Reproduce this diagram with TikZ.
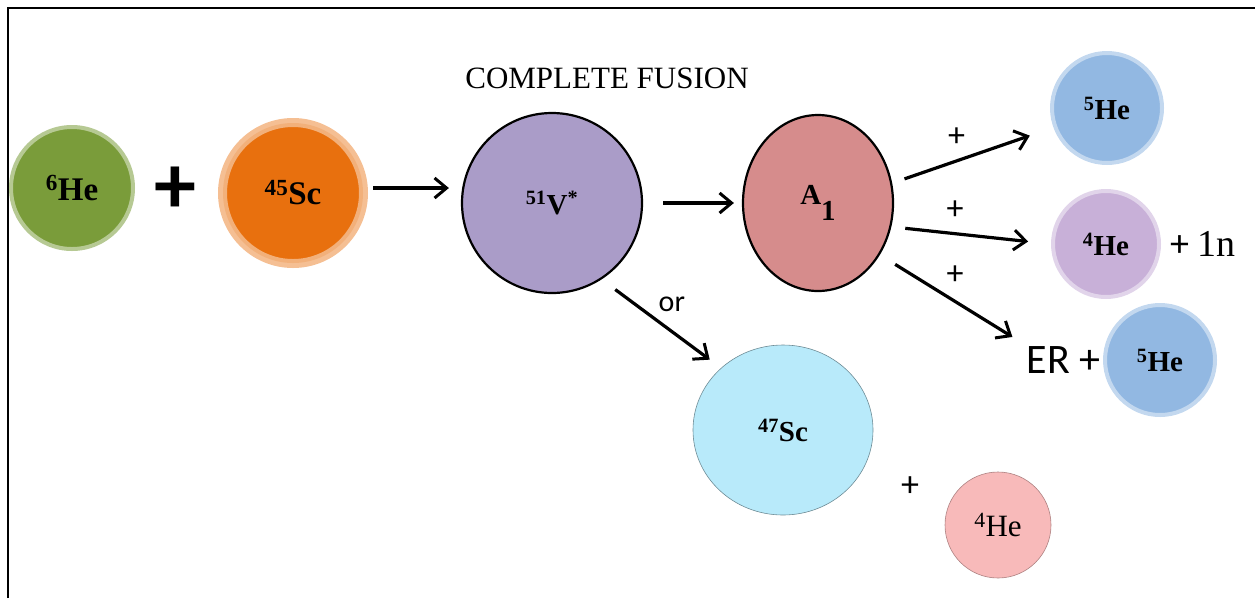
\documentclass[tikz,border=0pt]{standalone}
\usepackage{fontspec}
\setmainfont{Liberation Serif}
\newfontfamily\calfont{Carlito}
\usetikzlibrary{shapes.geometric,positioning,arrows.meta}
\definecolor{hegreen}{RGB}{122,156,58}
\definecolor{scorange}{RGB}{232,112,14}
\definecolor{vpurple}{RGB}{170,156,200}
\definecolor{apink}{RGB}{214,140,140}
\definecolor{heblue}{RGB}{146,184,226}
\definecolor{hepurple}{RGB}{200,176,216}
\definecolor{sccyan}{RGB}{184,234,250}
\definecolor{hepink}{RGB}{248,186,186}
\begin{document}
\begin{tikzpicture}[x=1pt,y=-1pt,
    nucleus/.style={circle, inner sep=0pt, minimum size=#1},
    bevel/.style={fill=#1, draw=#1!55!white, line width=4pt},
    arr/.style={-{Straight Barb[length=12pt,width=20pt,line width=3pt]}, line width=3.2pt},
    big/.style={font=\bfseries\fontsize{#1}{#1}\selectfont},
    sans/.style={font=\calfont\fontsize{#1}{#1}\selectfont}]
    \useasboundingbox (0,0) rectangle (1255,598);
    % Frame
    \draw[line width=1.2pt] (8,598) -- (8,8) -- (1255,8);

    % Reactants
    \node[nucleus=122, bevel=hegreen, big=33] (he6) at (72,188) {\textsuperscript{6}He};
    \node[sans=84] (plus) at (175,190) {\textbf{+}};
    \node[nucleus=150, fill=scorange!45!white] (glow) at (293,193) {};
    \node[nucleus=136, bevel=scorange, big=33] (sc45) at (293,193) {\textsuperscript{45}Sc};

    % Compound nucleus
    \node at (607,78) {\fontsize{31}{31}\selectfont COMPLETE FUSION};
    \node[nucleus=180, fill=vpurple, draw=black, line width=2.2pt, big=29] (v51) at (552,203) {\textsuperscript{51}V\textsuperscript{*}};
    \node[ellipse, inner sep=0pt, minimum width=150, minimum height=176, fill=apink, draw=black, line width=2.2pt, big=29] (a1) at (818,203) {A\raisebox{-16pt}{1}};

    % Products
    \node[nucleus=110, bevel=heblue, big=29] (he5a) at (1107,108) {\textsuperscript{5}He};
    \node[nucleus=106, bevel=hepurple, big=29] (he4a) at (1106,244) {\textsuperscript{4}He};
    \node[anchor=west, inner sep=0pt, xshift=9pt] (n1) at (he4a.east) {{\calfont\fontsize{38}{38}\selectfont +}\hspace{8pt}\fontsize{38}{38}\selectfont 1n};
    \node[nucleus=110, bevel=heblue, big=29] (he5b) at (1160,360) {\textsuperscript{5}He};
    \node[anchor=east, inner sep=2pt, sans=42] (er) at (he5b.west) {ER\hspace{10pt}+};
    \node[ellipse, inner sep=0pt, minimum width=180, minimum height=170, fill=sccyan, draw=sccyan!60!black, line width=0.6pt, big=29] (sc47) at (783,430) {\textsuperscript{47}Sc};
    \node[sans=36] (plus2) at (910,487) {+};
    \node[nucleus=106, fill=hepink, draw=hepink!70!black, line width=0.6pt, font=\fontsize{31}{31}\selectfont] (he4b) at (998,525) {\textsuperscript{4}He};

    % Reactions
    \draw[arr, shorten <=10pt, shorten >=12pt] ([yshift=5pt]sc45.east) -- ([yshift=15pt]v51.west);
    \draw[arr, shorten <=20pt, shorten >=8pt] (v51.east) -- (a1.west);
    \draw[arr, shorten <=13pt, shorten >=25pt] (a1.15) -- (he5a.200) node[pos=0.4, above=9pt, sans=34] {+};
    \draw[arr, shorten <=14pt, shorten >=23pt] (a1.-18) -- (he4a.180) node[pos=0.4, above=9pt, sans=34] {+};
    \draw[arr, shorten <=18pt, shorten >=14pt] (a1.-40) -- (er.north west) node[pos=0.52, above=12pt, sans=34] {+};
    \draw[arr, shorten <=17pt, shorten >=14pt] (v51.-57) -- (sc47.135) node[pos=0.42, above right=0pt and 2pt, sans=30] {or};
\end{tikzpicture}
\end{document}
